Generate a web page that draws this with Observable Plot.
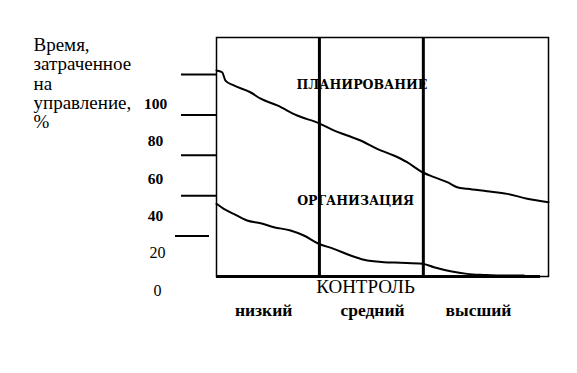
<!DOCTYPE html>
<html><head><meta charset="utf-8">
<script src="https://cdn.jsdelivr.net/npm/d3@7"></script>
<script src="https://cdn.jsdelivr.net/npm/@observablehq/plot@0.6"></script>
<style>body{margin:0;background:#fff;} svg{display:block;}</style>
</head><body><div id="chart"></div>
<script>
// Control levels (x categories) and their boundaries on a 0–100 "control" axis
const controlLevels = ["низкий", "средний", "высший"];
const levelBounds = [0, 31, 62.3, 100];
const levelLabelX = [14.2, 47.0, 78.9];

// Planning curve (% of management time)
const planX = [0, 1.7, 2.7, 5.2, 10.2, 13.3, 18.3, 24.3, 30.8, 35.3, 39.4, 43.4, 48.4, 53.4, 57.4, 62.0, 65.5, 69.5, 72.5, 75.5, 81.5, 87.6, 93.6, 100];
const planY = [102.0, 101.1, 97.0, 94.6, 91.2, 88.0, 84.7, 79.7, 75.9, 72.3, 69.8, 67.3, 63.2, 59.9, 56.6, 51.6, 49.2, 46.7, 44.2, 43.4, 42.2, 40.9, 38.5, 36.8];

// Organization curve
const orgX = [0, 2.2, 5.2, 9.2, 13.3, 17.3, 22.3, 26.3, 30.8, 35.3, 40.4, 44.4, 50.4, 55.4, 62.0, 65.5, 70.5, 75.5, 80.5, 85.5, 92.6];
const orgY = [36.0, 33.5, 31.0, 27.7, 26.4, 24.4, 22.8, 20.3, 16.2, 13.7, 10.4, 8.3, 7.1, 6.8, 6.3, 4.6, 2.6, 1.3, 0.8, 0.5, 0.5];

// Region labels
const areaNames = ["ПЛАНИРОВАНИЕ", "ОРГАНИЗАЦИЯ"];
const areaX = [43.8, 41.9];
const areaY = [95.0, 37.6];

// Y axis
const yTicks = [20, 40, 60, 80, 100];
const yTickLabels = [0, 20, 40, 60, 80, 100];
const yTitle = ["Время,", "затраченное", "на", "управление,", "%"];
const xTitle = "КОНТРОЛЬ";

// the printed tick labels sit on a slightly compressed, shifted scale
const labelPos = v => 0.924 * v - 7;

const serif = "'Liberation Serif', 'Times New Roman', serif";
const boldSerif = "'DejaVu Serif', serif";

const chart = Plot.plot({
  width: 577,
  height: 373,
  marginLeft: 216,
  marginRight: 29,
  marginTop: 37,
  marginBottom: 97,
  style: {fontFamily: serif, background: "#fff", color: "#000"},
  x: {domain: [0, 100], axis: null},
  y: {domain: [0, 118.3], axis: null},
  marks: [
    Plot.frame({stroke: "#000", strokeWidth: 1.5}),
    Plot.axisY({ticks: yTicks.filter(v => v > 20), tickSize: 35, tickFormat: () => "", stroke: "#000", strokeWidth: 2, label: null}),
    Plot.axisY({ticks: yTicks.filter(v => v <= 20), tickSize: 34, dx: -7, tickFormat: () => "", stroke: "#000", strokeWidth: 2, label: null}),
    Plot.ruleX(levelBounds.slice(1, -1), {stroke: "#000", strokeWidth: 3}),
    Plot.ruleY([0], {x1: 0, x2: 97.6, stroke: "#000", strokeWidth: 3}),
    Plot.line(planX.map((x, i) => [x, planY[i]]), {stroke: "#000", strokeWidth: 2, curve: "monotone-x"}),
    Plot.line(orgX.map((x, i) => [x, orgY[i]]), {stroke: "#000", strokeWidth: 2, curve: "monotone-x"}),
    Plot.text(areaNames, {x: (d, i) => areaX[i], y: (d, i) => areaY[i], text: d => d,
      fontFamily: boldSerif, fontWeight: "bold", fontSize: 12.5, fill: "#000"}),
    // tick labels
    Plot.text(yTickLabels.filter(v => v >= 40), {y: d => labelPos(d), text: d => String(d), frameAnchor: "left",
      dx: -61, textAnchor: "middle", fontFamily: serif, fontWeight: "bold", fontSize: 15.5, fill: "#000"}),
    Plot.text(yTickLabels.filter(v => v < 40), {y: d => labelPos(d), text: d => String(d), frameAnchor: "left",
      dx: -59, textAnchor: "middle", fontFamily: serif, fontSize: 16, fill: "#000"}),
    // y title
    Plot.text([yTitle.join("\n")], {frameAnchor: "top-left", dx: -183, dy: 0, textAnchor: "start", lineAnchor: "top",
      lineHeight: 1.01, fontFamily: serif, fontSize: 19, fill: "#000"}),
    // x title and categories
    Plot.text([xTitle], {x: levelLabelX[1], frameAnchor: "bottom", dx: -7, dy: 16, fontFamily: serif, fontSize: 19, fill: "#000"}),
    Plot.text(controlLevels, {x: (d, i) => levelLabelX[i], frameAnchor: "bottom", dy: 39, fontFamily: serif, fontSize: 17.5,
      fontWeight: "bold", fill: "#000"})
  ]
});
document.getElementById("chart").append(chart);
</script>
</body></html>
